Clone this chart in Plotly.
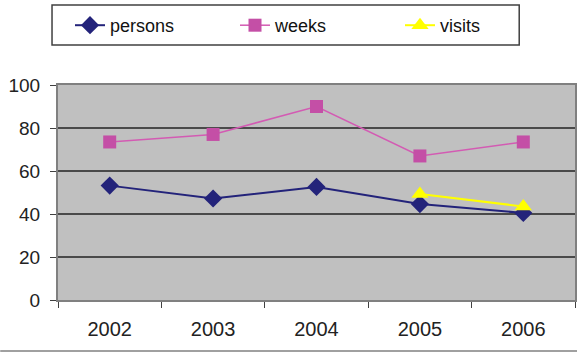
import plotly.graph_objects as go

years = ["2002", "2003", "2004", "2005", "2006"]
persons = [53.2, 47.2, 52.6, 44.6, 40.5]
weeks = [73.5, 77.0, 90.0, 67.0, 73.5]
visits_years = ["2005", "2006"]
visits = [49.3, 43.5]
y_ticks = [0, 20, 40, 60, 80, 100]

W, H = 579, 353
L, R, T, B = 58, 2, 85, 53

fig = go.Figure()
fig.add_trace(go.Scatter(
    x=years, y=persons, name="persons", mode="lines+markers",
    line=dict(color="#23237A", width=2),
    marker=dict(symbol="diamond", size=14, color="#23237A"),
))
fig.add_trace(go.Scatter(
    x=years, y=weeks, name="weeks", mode="lines+markers",
    line=dict(color="#D35BB3", width=1.5),
    marker=dict(symbol="square", size=13, color="#C44FA6"),
))
fig.add_trace(go.Scatter(
    x=visits_years, y=visits, name="visits", mode="lines+markers",
    line=dict(color="#FFFF00", width=2),
    marker=dict(symbol="triangle-up", size=15, color="#FFFF00"),
))

pw = W - L - R
ph = H - T - B
fig.add_shape(type="rect", xref="paper", yref="paper",
              x0=(52 - L) / pw, x1=(521 - L) / pw,
              y0=(H - B - 45) / ph, y1=(H - B - 5) / ph,
              line=dict(color="#404040", width=1.5), fillcolor="white", layer="below")
fig.add_shape(type="line", xref="paper", yref="paper",
              x0=-L / pw, x1=(W - L) / pw,
              y0=(H - B - 351) / ph, y1=(H - B - 351) / ph,
              line=dict(color="#808080", width=1.5))

fig.update_layout(
    width=W, height=H,
    margin=dict(l=L, r=R, t=T, b=B),
    paper_bgcolor="white",
    plot_bgcolor="#C0C0C0",
    font=dict(family="Liberation Sans, Arial, sans-serif", size=18, color="#222222"),
    showlegend=True,
    legend=dict(
        orientation="h",
        xref="container", yref="container",
        x=70 / W, y=1 - 7 / H, xanchor="left", yanchor="top",
        bgcolor="rgba(0,0,0,0)", borderwidth=0,
        entrywidth=120, entrywidthmode="pixels",
        font=dict(size=18, color="#111111"),
    ),
    xaxis=dict(
        type="category", showgrid=False,
        showline=True, linecolor="#808080", linewidth=2, mirror=True,
        ticks="outside", tickson="boundaries", ticklen=6, tickcolor="#404040",
        tickfont=dict(size=20, color="#222222"),
        ticklabelstandoff=10,
        range=[-0.5, 4.5], fixedrange=True,
    ),
    yaxis=dict(
        range=[0, 100], tickvals=y_ticks,
        showgrid=True, gridcolor="#4A4A4A", gridwidth=1.5,
        showline=True, linecolor="#808080", linewidth=2, mirror=True,
        ticks="outside", ticklen=6, tickcolor="#404040",
        tickfont=dict(size=19, color="#222222"),
        ticklabelstandoff=6,
        zeroline=False,
    ),
)

fig.write_html("out.html")
